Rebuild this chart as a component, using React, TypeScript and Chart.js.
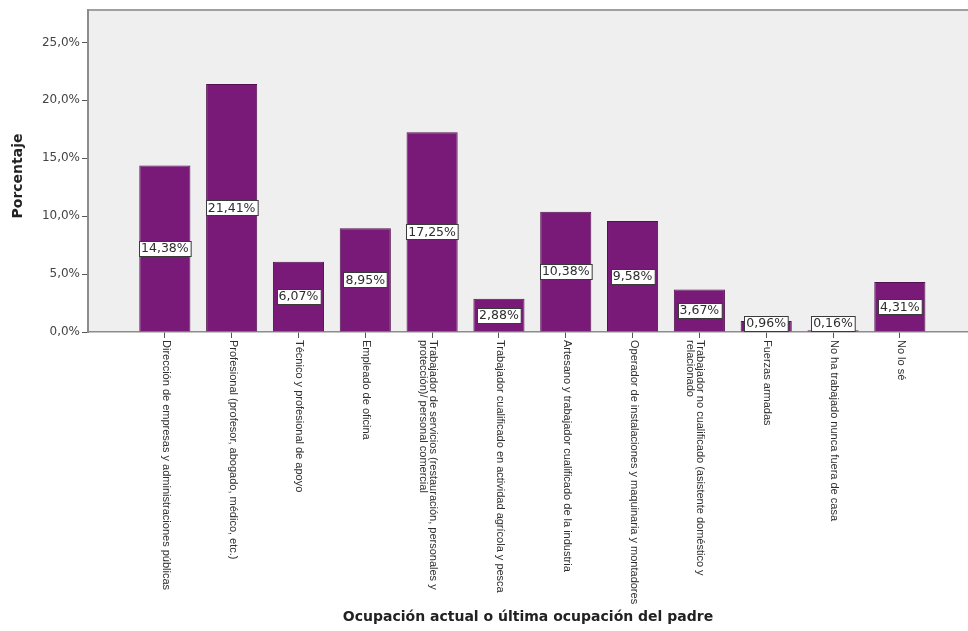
import React, { useEffect, useRef } from 'react';
import { Chart, registerables } from 'chart.js';

Chart.register(...registerables);

const categories: string[][] = [
  ['Dirección de empresas y administraciones públicas'],
  ['Profesional (profesor, abogado, médico, etc.)'],
  ['Técnico y profesional de apoyo'],
  ['Empleado de oficina'],
  ['Trabajador de servicios (restauración, personales y', 'protección)/ personal comercial'],
  ['Trabajador cualificado en actividad agrícola y pesca'],
  ['Artesano y trabajador cualificado de la industria'],
  ['Operador de instalaciones y maquinaria y montadores'],
  ['Trabajador no cualificado (asistente doméstico y', 'relacionado'],
  ['Fuerzas armadas'],
  ['No ha trabajado nunca fuera de casa'],
  ['No lo sé'],
];

const percentages: number[] = [14.38, 21.41, 6.07, 8.95, 17.25, 2.88, 10.38, 9.58, 3.67, 0.96, 0.16, 4.31];

const yTicks: number[] = [0, 5, 10, 15, 20, 25];
const yTickLabels: string[] = ['0,0%', '5,0%', '10,0%', '15,0%', '20,0%', '25,0%'];

const xTitle = 'Ocupación actual o última ocupación del padre';
const yTitle = 'Porcentaje';

const BAR_COLOR = '#7a1a78';
const BAR_BORDER = '#52104e';
const PLOT_BG = '#efefef';
const FRAME = '#8c8c8c';
const TEXT = '#2e2e2e';

const fmt = (v: number) => v.toFixed(2).replace('.', ',') + '%';

const decorPlugin = {
  id: 'decor',
  beforeDraw(chart: any) {
    const { ctx, chartArea } = chart;
    ctx.save();
    ctx.fillStyle = PLOT_BG;
    ctx.fillRect(chartArea.left, chartArea.top, chartArea.right - chartArea.left, chartArea.bottom - chartArea.top);
    ctx.strokeStyle = '#a0a0a0';
    ctx.lineWidth = 2;
    ctx.beginPath();
    ctx.moveTo(chartArea.left, chartArea.top);
    ctx.lineTo(chartArea.right, chartArea.top);
    ctx.stroke();
    ctx.restore();
  },
  afterDatasetsDraw(chart: any) {
    const { ctx } = chart;
    const meta = chart.getDatasetMeta(0);
    ctx.save();
    ctx.font = '12.5px "DejaVu Sans"';
    ctx.textAlign = 'center';
    ctx.textBaseline = 'middle';
    meta.data.forEach((bar: any, i: number) => {
      const text = fmt(percentages[i]);
      const tw = ctx.measureText(text).width;
      const w = tw + 4;
      const h = 15;
      let cy = (bar.y + bar.base) / 2;
      if (cy + h / 2 > bar.base - 1) cy = bar.base - 1 - h / 2;
      const x0 = Math.round(bar.x - w / 2) + 0.5;
      const y0 = Math.round(cy - h / 2) + 0.5;
      ctx.fillStyle = '#ffffff';
      ctx.fillRect(x0, y0, w, h);
      ctx.strokeStyle = '#3a3a3a';
      ctx.lineWidth = 1;
      ctx.strokeRect(x0, y0, w, h);
      ctx.fillStyle = TEXT;
      ctx.fillText(text, bar.x, cy + 0.5);
    });
    ctx.restore();
  },
  afterDraw(chart: any) {
    const { ctx, chartArea } = chart;
    const xScale = chart.scales.x;
    ctx.save();
    // category labels, rotated clockwise
    ctx.font = '11px "Liberation Sans"';
    ctx.fillStyle = TEXT;
    ctx.textAlign = 'left';
    ctx.textBaseline = 'middle';
    categories.forEach((lines, i) => {
      const x = xScale.getPixelForValue(i);
      ctx.save();
      ctx.translate(x, xScale.top + 8);
      ctx.rotate(Math.PI / 2);
      lines.forEach((line, j) => {
        ctx.fillText(line, 0, -1 + j * 10.5);
      });
      ctx.restore();
    });
    // x title
    ctx.font = 'bold 14px "DejaVu Sans"';
    ctx.fillStyle = '#222222';
    ctx.textAlign = 'center';
    ctx.textBaseline = 'middle';
    ctx.fillText(xTitle, (chartArea.left + chartArea.right) / 2, 617);
    // y title
    ctx.save();
    ctx.translate(18, (chartArea.top + chartArea.bottom) / 2 + 5);
    ctx.rotate(-Math.PI / 2);
    ctx.fillText(yTitle, 0, 0);
    ctx.restore();
    ctx.restore();
  },
};

export default function App() {
  const canvasRef = useRef<HTMLCanvasElement | null>(null);

  useEffect(() => {
    if (!canvasRef.current) return;
    const chart = new Chart(canvasRef.current, {
      type: 'bar',
      data: {
        datasets: [
          {
            data: percentages.map((v, i) => ({ x: i, y: v })),
            backgroundColor: BAR_COLOR,
            borderColor: BAR_BORDER,
            borderWidth: 1,
            barPercentage: 0.765,
            categoryPercentage: 1,
          } as any,
        ],
      },
      options: {
        animation: false,
        responsive: false,
        devicePixelRatio: 1,
        layout: { padding: { top: 10, right: 0, left: 0, bottom: 0 } },
        plugins: {
          legend: { display: false },
          tooltip: { enabled: false },
        },
        scales: {
          x: {
            type: 'linear',
            offset: false,
            min: -1.15,
            max: 12.02,
            afterBuildTicks: (s: any) => {
              s.ticks = categories.map((_, i) => ({ value: i }));
            },
            afterFit: (s: any) => {
              s.height = 299;
            },
            ticks: { display: false },
            grid: { offset: false, drawOnChartArea: false, drawTicks: true, tickLength: 6, color: '#555555' },
            border: { color: FRAME, width: 1.5 },
          },
          y: {
            min: 0,
            max: 27.8,
            afterBuildTicks: (s: any) => {
              s.ticks = yTicks.map((v) => ({ value: v }));
            },
            afterFit: (s: any) => {
              s.width = 88;
            },
            ticks: {
              callback: (v: any) => yTickLabels[yTicks.indexOf(Number(v))] ?? '',
              font: { family: 'DejaVu Sans', size: 12 },
              color: '#444444',
              padding: 2,
            },
            grid: { drawOnChartArea: false, drawTicks: true, tickLength: 6, color: '#555555' },
            border: { color: FRAME, width: 2 },
          },
        },
      } as any,
      plugins: [decorPlugin],
    });
    return () => chart.destroy();
  }, []);

  return (
    <div style={{ position: 'fixed', left: 0, top: 0, width: 968, height: 631, background: '#ffffff' }}>
      <canvas ref={canvasRef} width={968} height={631} />
    </div>
  );
}
